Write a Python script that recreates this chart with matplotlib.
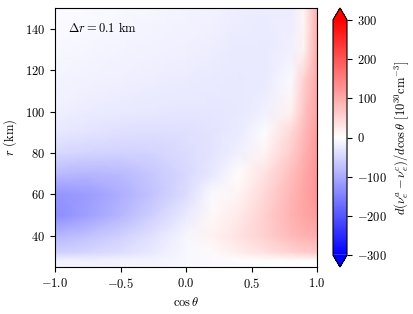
import numpy as np
import matplotlib
matplotlib.use("Agg")
import matplotlib.pyplot as plt

plt.rcParams["font.family"] = "serif"
plt.rcParams["font.serif"] = ["cmr10"]
plt.rcParams["mathtext.fontset"] = "cm"
plt.rcParams["axes.formatter.use_mathtext"] = True
plt.rcParams["font.size"] = 9

# grid nodes
cos_nodes = [-1.0, -0.75, -0.5, -0.25, 0.0, 0.2, 0.4, 0.6, 0.8, 0.9, 1.0]
r_nodes = [25, 28, 32, 40, 50, 60, 70, 80, 90, 100, 115, 130, 150]

# d(nu_e^a - nu_e^c)/dcos(theta), one row per r node [1e30 cm^-3]
row_r25 = [-12, -12, -12, -10, -8, -6, -5, -4, -4, -4, -4]
row_r28 = [-15, -15, -14, -12, -8, -5, -2, 0, 2, 2, 2]
row_r32 = [-55, -48, -38, -25, -8, 5, 20, 35, 50, 58, 65]
row_r40 = [-85, -72, -55, -35, -10, 15, 35, 55, 80, 90, 95]
row_r50 = [-135, -112, -85, -55, -25, 8, 25, 55, 90, 105, 115]
row_r60 = [-125, -115, -95, -70, -40, -5, 12, 45, 85, 105, 125]
row_r70 = [-80, -85, -80, -65, -45, -28, 3, 35, 75, 100, 125]
row_r80 = [-45, -50, -52, -50, -42, -32, -18, 12, 60, 90, 120]
row_r90 = [-28, -32, -36, -38, -36, -32, -25, -3, 45, 80, 115]
row_r100 = [-18, -22, -25, -28, -30, -30, -28, -18, 15, 70, 110]
row_r115 = [-12, -15, -18, -20, -22, -24, -26, -25, -5, 55, 105]
row_r130 = [-8, -10, -12, -15, -17, -20, -24, -25, -18, 15, 100]
row_r150 = [-5, -6, -8, -10, -12, -15, -20, -22, -22, 10, 95]

field = np.array([row_r25, row_r28, row_r32, row_r40, row_r50, row_r60, row_r70,
                  row_r80, row_r90, row_r100, row_r115, row_r130, row_r150], dtype=float)

cbar_ticks = [-300, -200, -100, 0, 100, 200, 300]

fig = plt.figure(figsize=(4.14, 3.14), dpi=100)
ax = fig.add_axes([55 / 414, 47 / 314, 262 / 414, 259 / 314])
cax = fig.add_axes([333 / 414, 47 / 314, 14 / 414, 259 / 314])

mesh = ax.pcolormesh(cos_nodes, r_nodes, field, cmap="bwr", vmin=-300, vmax=300,
                     shading="gouraud", rasterized=True)
ax.set_xlim(-1, 1)
ax.set_ylim(25, 150)
ax.set_xticks([-1.0, -0.5, 0.0, 0.5, 1.0])
ax.set_yticks([40, 60, 80, 100, 120, 140])
ax.set_xlabel(r"$\cos\theta$")
ax.set_ylabel(r"$r$ (km)")
ax.text(0.05, 0.95, r"$\Delta r = 0.1$ km", transform=ax.transAxes, ha="left", va="top")

cb = fig.colorbar(mesh, cax=cax, extend="both", ticks=cbar_ticks)
cb.set_label(r"$d(\nu_e^a-\nu_e^c)/d\cos\theta$ [$10^{30}$cm$^{-3}$]")
cb.ax.axhline(-300, color="white", lw=1)

fig.savefig("out.png", dpi=100)
